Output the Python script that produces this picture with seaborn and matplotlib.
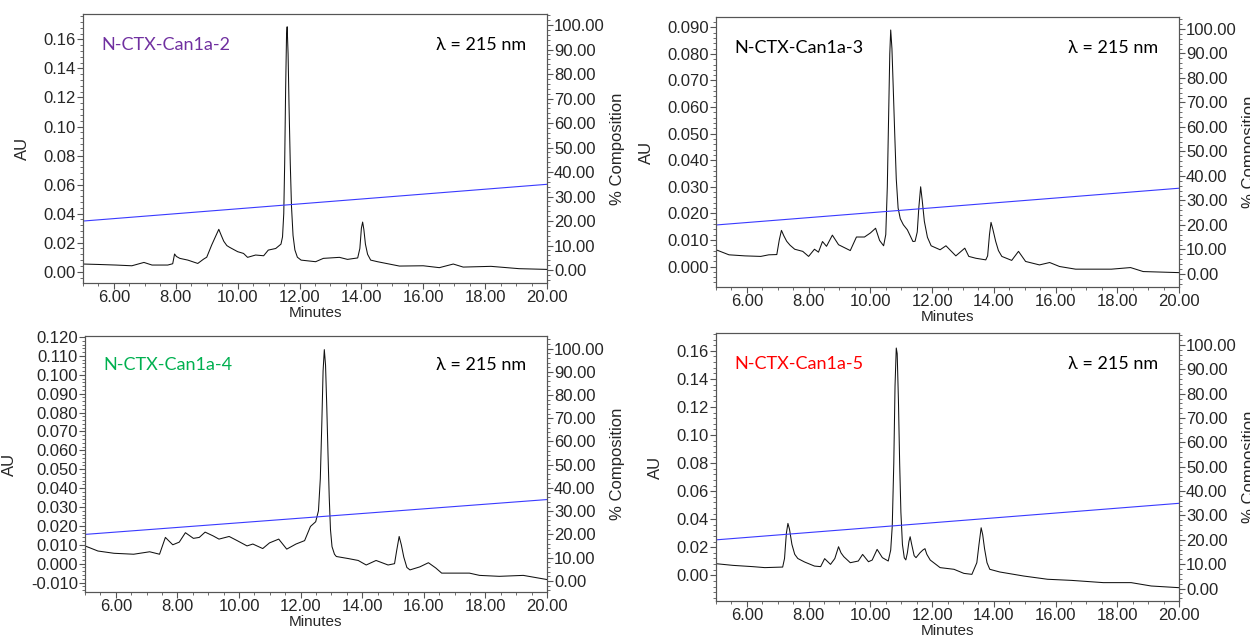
import numpy as np
import pandas as pd
import matplotlib
matplotlib.use("Agg")
import matplotlib.pyplot as plt
from matplotlib.ticker import AutoMinorLocator, FormatStrFormatter
import seaborn as sns

# traces (time in min, absorbance in AU)
t2 = [5.0, 5.5, 6.06, 6.58, 6.97, 7.23, 7.74, 7.9, 7.96, 8.02, 8.13, 8.39, 8.71, 8.9,
      9.0, 9.16, 9.3, 9.39, 9.47, 9.55, 9.65, 9.74, 10.0, 10.19, 10.32, 10.58, 10.84,
      10.99, 11.23, 11.4, 11.45, 11.49, 11.52, 11.55, 11.58, 11.6, 11.63, 11.66, 11.7,
      11.74, 11.79, 11.85, 11.93, 12.05, 12.52, 12.77, 13.29, 13.55, 13.88, 13.95, 14.0,
      14.04, 14.08, 14.13, 14.2, 14.3, 14.52, 15.23, 16.0, 16.52, 16.97, 17.29, 18.19,
      19.1, 20.0]
au2 = [0.0053, 0.0050, 0.0046, 0.0041, 0.0064, 0.0046, 0.0046, 0.0055, 0.0122, 0.0105,
       0.0092, 0.0080, 0.0057, 0.0087, 0.0100, 0.0184, 0.0250, 0.0292, 0.0250, 0.0210,
       0.0180, 0.0168, 0.0138, 0.0126, 0.0099, 0.0115, 0.0110, 0.0149, 0.0160, 0.0190,
       0.0240, 0.0400, 0.0750, 0.1250, 0.1630, 0.1687, 0.1500, 0.1150, 0.0750, 0.0450,
       0.0250, 0.0150, 0.0100, 0.0080, 0.0069, 0.0092, 0.0099, 0.0085, 0.0095, 0.0160,
       0.0300, 0.0342, 0.0290, 0.0190, 0.0120, 0.0080, 0.0069, 0.0039, 0.0041, 0.0028,
       0.0053, 0.0032, 0.0037, 0.0021, 0.0016]

t3 = [5.0, 5.42, 5.94, 6.45, 6.71, 6.97, 7.05, 7.12, 7.2, 7.29, 7.4, 7.55, 7.81, 8.0,
      8.19, 8.32, 8.45, 8.58, 8.77, 8.97, 9.35, 9.55, 9.81, 10.0, 10.17, 10.3, 10.43,
      10.5, 10.55, 10.59, 10.63, 10.66, 10.7, 10.74, 10.79, 10.84, 10.9, 10.97, 11.07,
      11.2, 11.38, 11.45, 11.52, 11.57, 11.63, 11.68, 11.75, 11.85, 11.97, 12.26, 12.45,
      12.77, 13.06, 13.19, 13.42, 13.74, 13.8, 13.86, 13.91, 13.97, 14.06, 14.15, 14.26,
      14.58, 14.8, 15.03, 15.48, 15.81, 16.13, 16.65, 17.81, 18.43, 18.84, 20.0]
au3 = [0.0063, 0.0044, 0.0040, 0.0038, 0.0044, 0.0045, 0.0100, 0.0136, 0.0115, 0.0095,
       0.0080, 0.0065, 0.0057, 0.0038, 0.0065, 0.0054, 0.0094, 0.0076, 0.0118, 0.0082,
       0.0060, 0.0111, 0.0111, 0.0126, 0.0144, 0.0098, 0.0078, 0.0120, 0.0300, 0.0550,
       0.0800, 0.0890, 0.0820, 0.0680, 0.0500, 0.0330, 0.0220, 0.0180, 0.0157, 0.0138,
       0.0094, 0.0095, 0.0130, 0.0220, 0.0300, 0.0250, 0.0170, 0.0110, 0.0078, 0.0063,
       0.0078, 0.0040, 0.0069, 0.0038, 0.0031, 0.0025, 0.0040, 0.0120, 0.0166, 0.0140,
       0.0095, 0.0060, 0.0038, 0.0023, 0.0057, 0.0019, 0.0006, 0.0015, 0.0000, -0.0010,
       -0.0010, -0.0004, -0.0019, -0.0023]

t4 = [5.0, 5.42, 5.94, 6.58, 7.1, 7.42, 7.61, 7.85, 8.06, 8.26, 8.52, 8.71, 8.9, 9.16,
      9.35, 9.68, 9.94, 10.26, 10.45, 10.77, 10.99, 11.29, 11.55, 11.85, 12.13, 12.32,
      12.49, 12.58, 12.64, 12.69, 12.73, 12.77, 12.81, 12.85, 12.89, 12.93, 12.97, 13.02,
      13.1, 13.16, 13.55, 13.87, 14.13, 14.45, 14.84, 15.05, 15.12, 15.2, 15.27, 15.35,
      15.45, 15.55, 15.87, 16.15, 16.39, 16.58, 17.48, 17.81, 18.45, 19.23, 20.0]
au4 = [0.0094, 0.0067, 0.0055, 0.0050, 0.0063, 0.0050, 0.0139, 0.0100, 0.0114, 0.0164,
       0.0134, 0.0139, 0.0167, 0.0147, 0.0130, 0.0144, 0.0122, 0.0094, 0.0104, 0.0080,
       0.0110, 0.0130, 0.0077, 0.0104, 0.0122, 0.0197, 0.0222, 0.0280, 0.0450, 0.0750,
       0.1020, 0.1133, 0.1050, 0.0830, 0.0580, 0.0350, 0.0180, 0.0090, 0.0050, 0.0038,
       0.0027, 0.0017, -0.0007, 0.0017, -0.0007, 0.0000, 0.0070, 0.0144, 0.0100, 0.0035,
       -0.0020, -0.0033, -0.0017, 0.0005, -0.0023, -0.0050, -0.0050, -0.0062, -0.0067,
       -0.0062, -0.0084]

t5 = [5.0, 5.55, 6.19, 6.58, 7.16, 7.22, 7.28, 7.33, 7.38, 7.46, 7.55, 7.65, 7.87, 8.19,
      8.39, 8.52, 8.71, 8.85, 8.97, 9.05, 9.14, 9.35, 9.61, 9.75, 9.94, 10.06, 10.22,
      10.39, 10.58, 10.66, 10.71, 10.76, 10.8, 10.84, 10.87, 10.91, 10.95, 10.99, 11.04,
      11.1, 11.15, 11.2, 11.25, 11.29, 11.34, 11.42, 11.48, 11.61, 11.7, 11.77, 11.83,
      11.94, 12.26, 12.71, 13.03, 13.29, 13.45, 13.52, 13.59, 13.64, 13.7, 13.78, 13.87,
      14.19, 14.97, 15.74, 16.52, 17.55, 18.45, 19.1, 20.0]
au5 = [0.0083, 0.0071, 0.0062, 0.0055, 0.0059, 0.0120, 0.0300, 0.0370, 0.0330, 0.0220,
       0.0150, 0.0120, 0.0095, 0.0066, 0.0062, 0.0119, 0.0078, 0.0120, 0.0204, 0.0160,
       0.0133, 0.0090, 0.0102, 0.0149, 0.0097, 0.0109, 0.0185, 0.0126, 0.0102, 0.0180,
       0.0350, 0.0800, 0.1350, 0.1620, 0.1580, 0.1250, 0.0800, 0.0450, 0.0220, 0.0125,
       0.0110, 0.0160, 0.0240, 0.0275, 0.0220, 0.0140, 0.0126, 0.0161, 0.0180, 0.0190,
       0.0150, 0.0109, 0.0055, 0.0043, 0.0014, 0.0007, 0.0090, 0.0220, 0.0339, 0.0290,
       0.0190, 0.0090, 0.0043, 0.0024, -0.0005, -0.0028, -0.0036, -0.0052, -0.0052,
       -0.0076, -0.0088]

# solvent gradient (% composition)
grad_t = [5.0, 20.0]
grad_pct = [20.0, 35.0]

names = ["N-CTX-Can1a-2", "N-CTX-Can1a-3", "N-CTX-Can1a-4", "N-CTX-Can1a-5"]
name_colors = ["#7030A0", "#000000", "#00B050", "#FF0000"]
traces = [(t2, au2), (t3, au3), (t4, au4), (t5, au5)]
au_limits = [(-0.0078, 0.1775), (-0.0077, 0.0939), (-0.0150, 0.1205), (-0.0183, 0.1727)]
au_ticks = [(0.0, 0.16, 0.02), (0.0, 0.09, 0.01), (-0.01, 0.12, 0.01), (0.0, 0.16, 0.02)]
au_fmt = ["%.2f", "%.3f", "%.3f", "%.2f"]
pct_limits = [(-5.3, 104.5), (-5.3, 104.9), (-4.8, 105.4), (-5.1, 104.9)]

# axes boxes in figure fractions [left, bottom, width, height]
boxes = [[0.0664, 0.5598, 0.3712, 0.4184],
         [0.5728, 0.5537, 0.3704, 0.4199],
         [0.0680, 0.0793, 0.3696, 0.3981],
         [0.5728, 0.0653, 0.3704, 0.4168]]

sns.set_theme(style="white")
plt.rcParams['font.family'] = ['Liberation Sans', 'DejaVu Sans']

fig = plt.figure(figsize=(12.5, 6.43), dpi=100)
spine_col = "#555555"

for i in range(4):
    ax = fig.add_axes(boxes[i])
    df = pd.DataFrame({"Minutes": traces[i][0], "AU": traces[i][1]})
    sns.lineplot(data=df, x="Minutes", y="AU", ax=ax, color="#111111", linewidth=0.75,
                 sort=False, estimator=None)
    ax.set_xlim(5, 20)
    ax.set_ylim(*au_limits[i])
    ax.set_xticks(np.arange(6, 20.01, 2))
    ax.xaxis.set_major_formatter(FormatStrFormatter("%.2f"))
    ax.xaxis.set_minor_locator(AutoMinorLocator(4))
    lo, hi, step = au_ticks[i]
    ax.set_yticks(np.arange(lo, hi + step / 2, step))
    ax.yaxis.set_major_formatter(FormatStrFormatter(au_fmt[i]))
    ax.yaxis.set_minor_locator(AutoMinorLocator(5))
    ax.tick_params(which="major", direction="out", length=4, width=0.8, color=spine_col,
                   labelsize=12, pad=1, bottom=True, left=True)
    ax.tick_params(which="minor", direction="out", length=2, width=0.6, color=spine_col,
                   bottom=True, left=True)
    ax.set_xlabel("Minutes", fontsize=11, labelpad=1)
    ax.set_ylabel("AU", fontsize=12, labelpad=10)
    for s in ax.spines.values():
        s.set_color(spine_col)
        s.set_linewidth(0.8)

    ax2 = ax.twinx()
    gdf = pd.DataFrame({"Minutes": grad_t, "pct": grad_pct})
    sns.lineplot(data=gdf, x="Minutes", y="pct", ax=ax2, color="#3A3AFF", linewidth=0.8)
    ax2.set_ylim(*pct_limits[i])
    ax2.set_yticks(np.arange(0, 100.1, 10))
    ax2.yaxis.set_major_formatter(FormatStrFormatter("%.2f"))
    ax2.yaxis.set_minor_locator(AutoMinorLocator(5))
    ax2.tick_params(which="major", direction="out", length=4, width=0.8, color=spine_col,
                    labelsize=12, pad=1, right=True)
    ax2.tick_params(which="minor", direction="out", length=2, width=0.6, color=spine_col,
                    right=True)
    ax2.set_ylabel("% Composition", fontsize=12, labelpad=4)
    ax2.set_xlabel("")
    for s in ax2.spines.values():
        s.set_color(spine_col)
        s.set_linewidth(0.8)

    ax.text(0.04, 0.885, names[i], transform=ax.transAxes, color=name_colors[i],
            fontsize=13, family=["Lato", "DejaVu Sans"], va="center", ha="left")
    ax.text(0.955, 0.885, "λ = 215 nm", transform=ax.transAxes, color="black",
            fontsize=13, family=["Lato", "DejaVu Sans"], va="center", ha="right")

fig.savefig("out.png", dpi=100)
